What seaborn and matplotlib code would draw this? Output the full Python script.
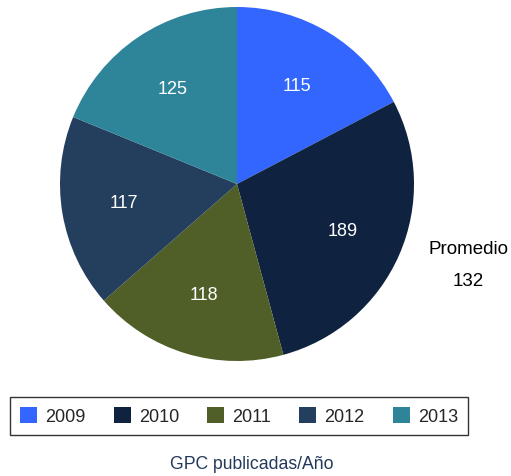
import seaborn as sns
import matplotlib.pyplot as plt
import numpy as np

years = ['2009', '2010', '2011', '2012', '2013']
gpc_values = [115, 189, 118, 117, 125]
colors = ['#3366FF', '#0F2340', '#4F5F27', '#243E5E', '#2E8499']
average_label = 'Promedio'
average_value = int(np.mean(gpc_values))
title = 'GPC publicadas/Año'

sns.set_theme(style="white")
plt.rcParams['font.family'] = ['Liberation Sans', 'DejaVu Sans']

W, H = 511, 477
fig = plt.figure(figsize=(W / 100, H / 100), dpi=100)

# pie axes: center ~(237,185) px, radius ~177 px
cx, cy, r = 237, 185, 177
ax = fig.add_axes([(cx - r) / W, (H - cy - r) / H, 2 * r / W, 2 * r / H])

wedges, texts, autotexts = ax.pie(
    gpc_values, colors=colors, startangle=90, counterclock=False,
    autopct=lambda p: f'{p * sum(gpc_values) / 100:.0f}',
    pctdistance=0.65, textprops=dict(color='white', fontsize=13),
    wedgeprops=dict(linewidth=0))
ax.set_xlim(-1, 1)
ax.set_ylim(-1, 1)
ax.set_aspect('equal')
ax.axis('off')

fig.text(468 / W, 1 - 250 / H, average_label, ha='center', va='center', fontsize=13.5, color='black')
fig.text(468 / W, 1 - 281 / H, str(average_value), ha='center', va='center', fontsize=13.5, color='black')

leg = fig.legend(wedges, years, loc='center', bbox_to_anchor=(239 / W, 1 - 417 / H),
                 ncol=5, frameon=True, fancybox=False, fontsize=13,
                 handlelength=0.95, handleheight=0.95, handletextpad=0.45,
                 columnspacing=1.55, borderpad=0.55, borderaxespad=0,
                 edgecolor='black')
leg.get_frame().set_linewidth(1.0)

fig.text(252 / W, 1 - 465 / H, title, ha='center', va='center', fontsize=12.7, color='#23395B')

fig.savefig('out.png', dpi=100)
